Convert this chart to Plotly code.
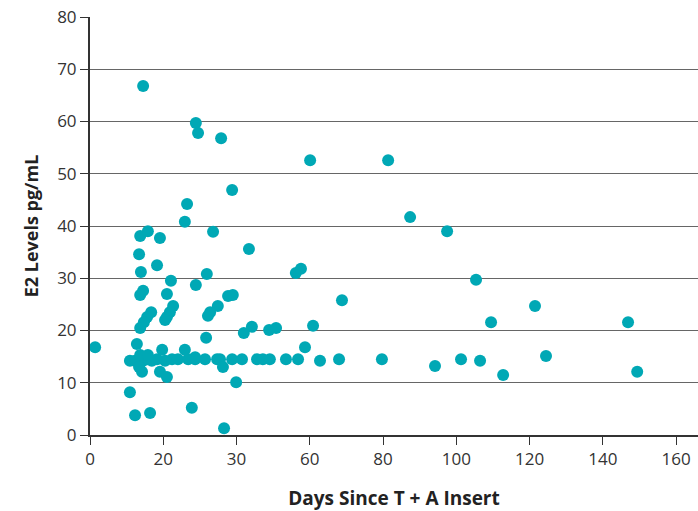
import plotly.graph_objects as go

# Days since T + A insert (x) and E2 levels pg/mL (y)
days = [
    1.4, 14.5, 28.9, 29.5, 35.8, 38.8, 26.5, 25.9, 33.6, 13.7, 15.8, 19.1, 13.4, 43.4,
    13.9, 18.3, 22.1, 28.9, 31.9, 13.7, 14.5, 21.0, 37.7, 39.0, 22.7, 21.8, 21.0, 20.5,
    34.9, 32.8, 32.2, 16.7, 15.6, 14.7, 13.7, 31.7, 42.0, 44.2, 48.9, 50.8, 12.8,
    10.9, 12.3, 13.7, 14.5, 15.8, 16.9, 18.3, 20.5, 22.4, 24.0, 26.8, 28.7, 31.4, 34.7,
    35.5, 38.8, 41.5, 45.6, 47.2, 49.1,
    13.7, 15.8, 14.2, 13.4, 19.7, 19.1, 21.0, 25.9, 28.7, 36.3, 39.9, 58.7,
    10.9, 12.3, 16.4, 27.8, 36.6,
    60.1, 81.4, 87.4, 97.5, 56.2, 57.6, 105.4, 68.8, 121.5, 109.5, 146.9, 60.9,
    53.5, 56.8, 62.8, 68.0, 79.7, 94.2, 101.3, 106.5, 112.8, 124.5, 149.4,
]
e2_levels = [
    16.8, 66.8, 59.7, 57.8, 56.8, 46.9, 44.2, 40.8, 38.9, 38.1, 39.0, 37.7, 34.6, 35.6,
    31.2, 32.5, 29.5, 28.7, 30.8, 26.8, 27.6, 27.0, 26.6, 26.8, 24.7, 23.5, 22.6, 22.0,
    24.7, 23.5, 22.8, 23.5, 22.6, 21.6, 20.5, 18.6, 19.5, 20.7, 20.1, 20.5, 17.4,
    14.2, 14.2, 14.5, 14.2, 14.5, 14.2, 14.5, 14.2, 14.5, 14.5, 14.5, 14.5, 14.5, 14.5,
    14.5, 14.5, 14.5, 14.5, 14.5, 14.5,
    15.3, 15.3, 12.1, 13.0, 16.3, 12.1, 11.1, 16.3, 14.9, 13.0, 10.1, 16.8,
    8.2, 3.8, 4.2, 5.2, 1.3,
    52.6, 52.6, 41.7, 39.0, 31.0, 31.8, 29.7, 25.8, 24.7, 21.6, 21.6, 20.9,
    14.5, 14.5, 14.2, 14.5, 14.5, 13.2, 14.5, 14.2, 11.5, 15.1, 12.1,
]

x_tick_vals = [0, 20, 40, 60, 80, 100, 120, 140, 160]
x_tick_text = ["0", "20", "30", "60", "80", "100", "120", "140", "160"]
y_tick_vals = [0, 10, 20, 30, 40, 50, 60, 70, 80]

fig = go.Figure()
fig.add_trace(go.Scatter(
    x=days, y=e2_levels, mode="markers",
    marker=dict(size=12, color="#00A8B5", line=dict(width=0)),
    cliponaxis=False, showlegend=False,
))

font_family = "Open Sans, Lato, sans-serif"
fig.update_layout(
    width=698, height=511,
    margin=dict(l=90, r=0, t=17, b=76),
    plot_bgcolor="white", paper_bgcolor="white",
    font=dict(family=font_family, color="#333333"),
)
fig.update_xaxes(
    range=[0, 166], tickvals=x_tick_vals, ticktext=x_tick_text,
    showgrid=False, zeroline=False,
    showline=True, linecolor="#333333", linewidth=2,
    ticks="outside", ticklen=8, tickwidth=1, tickcolor="#333333",
    tickfont=dict(size=17, color="#333333"),
    title=dict(text="<b>Days Since T + A Insert</b>", font=dict(size=19, color="#222222"), standoff=27),
)
fig.update_yaxes(
    range=[0, 80], tickvals=y_tick_vals,
    showgrid=True, gridcolor="#666666", gridwidth=1,
    zeroline=False,
    showline=True, linecolor="#333333", linewidth=2,
    ticks="outside", ticklen=8, tickwidth=1, tickcolor="#333333",
    tickfont=dict(size=17, color="#333333"),
    title=dict(text="<b>E2 Levels pg/mL</b>", font=dict(size=18, color="#222222"), standoff=14),
)

fig.write_html("out.html")
